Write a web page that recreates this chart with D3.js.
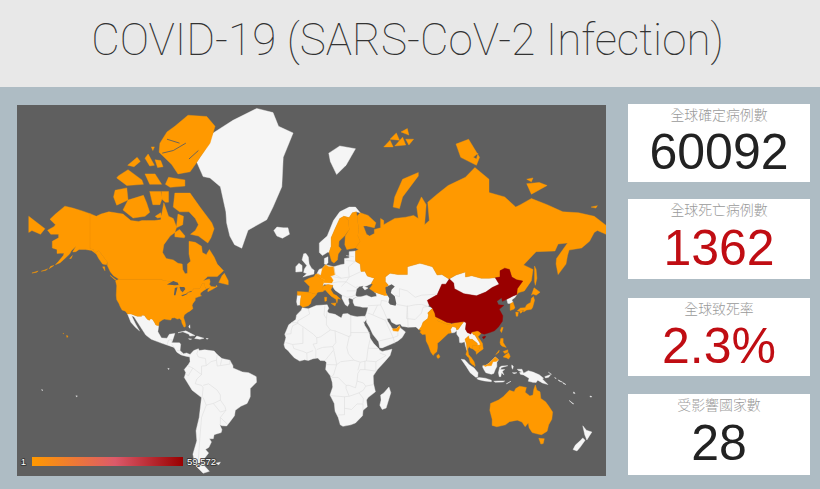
<!DOCTYPE html>
<html>
<head>
<meta charset="utf-8">
<script src="https://cdnjs.cloudflare.com/ajax/libs/d3/7.8.5/d3.min.js"></script>
<style>
  html, body { margin: 0; padding: 0; background: #aebcc4; overflow: hidden; }
  svg { display: block; }
</style>
</head>
<body>
<svg id="page" width="820" height="489"></svg>
<script>
// ── Values ──
const titleText = "COVID-19 (SARS-CoV-2 Infection)";
const cardLabels = ["全球確定病例數", "全球死亡病例數", "全球致死率", "受影響國家數"];
const cardValues = ["60092", "1362", "2.3%", "28"];
const cardColors = ["#222222", "#c00d13", "#c00d13", "#222222"];
const legendMin = 1, legendMax = 59572;

const reportingCountries = ["China", "Japan", "Singapore", "Thailand", "South Korea", "Malaysia", "Taiwan", "Germany", "Vietnam", "Australia", "USA", "France", "UAE", "Canada", "Philippines", "India", "Italy", "Russia", "Spain", "Nepal", "Cambodia", "Sri Lanka", "Finland", "Sweden", "Belgium"];
const reportingCases = [59572, 251, 58, 33, 28, 19, 18, 16, 16, 15, 14, 11, 8, 7, 3, 3, 3, 2, 2, 1, 1, 1, 1, 1, 1];

// ── Country outlines, [lon, lat] ──
const usaOutline = [[-124.7,48.4],[-123,49],[-95.2,49],[-94.6,48.7],[-92,48.3],[-89.6,48],[-88.4,48.3],[-84.8,46.8],[-84.4,46.5],[-82.5,45.3],[-82.1,43.6],[-82.5,42.6],[-83.1,42],[-79,42.8],[-79,43.3],[-76.8,43.6],[-75,45],[-71.5,45],[-70.8,45.4],[-70,46.7],[-69.2,47.4],[-68,47.3],[-67.8,45.7],[-67,44.9],[-69,44],[-70.7,43],[-70.8,42],[-70,41.7],[-72,41.2],[-74,40.6],[-74,39.5],[-75.5,38],[-76,37],[-75.5,35.3],[-77.5,34],[-79,33.3],[-81,32],[-81.4,30.5],[-80.5,28],[-80.1,26],[-80.5,25.2],[-81.2,25.2],[-82.5,27.5],[-82.8,29],[-84,30],[-85.5,29.7],[-87,30.4],[-89,30.3],[-89.5,29.2],[-91,29.3],[-93.8,29.7],[-95,29.2],[-97,28],[-97.3,26],[-99.1,26.4],[-100,28],[-101.4,29.8],[-102.7,29.7],[-103.2,29],[-104.5,29.6],[-106.5,31.8],[-108.2,31.8],[-108.2,31.3],[-111,31.3],[-114.8,32.5],[-117.1,32.5],[-118.5,34],[-120.6,34.6],[-121.9,36.6],[-122.5,37.8],[-124,39.8],[-124.3,42],[-124,46.3]];
const alaskaOutline = [[-141,69.6],[-141,60.3],[-139,60],[-137.5,58.9],[-135.5,59.7],[-133.5,58.4],[-130,55.9],[-130.5,54.8],[-133,55],[-135.5,57],[-137,58.5],[-140,59.7],[-144,60],[-148,60],[-150,59.3],[-152,59.2],[-150,61],[-153,59.5],[-154,58.5],[-157,57],[-160,55.5],[-163,54.8],[-161,56],[-158,58],[-157.5,58.8],[-160,58.8],[-162,58.7],[-162,60],[-165,60.5],[-165,62.5],[-161,63.5],[-161,64.5],[-166,64.5],[-168,65.6],[-164,66.5],[-163,67],[-166.5,68.3],[-163,69.5],[-157,71.2],[-152,70.8],[-146,70.2]];
const aleutianOutlines = [[[-167,53.3],[-164,54.5],[-166,54.2]],[[-172,52.3],[-168,53.2],[-169,52.7]],[[-178,51.6],[-174,52.4],[-175,51.9]],[[-154,57],[-152.2,58],[-153,57]]];
const hawaiiOutlines = [[[-156,20.2],[-155,19.9],[-155.6,19]],[[-158.2,21.6],[-157.7,21.4],[-158,21.2]]];
const canadaOutline = [[-141,69.6],[-137,69],[-134,69.5],[-129,70],[-125,69.8],[-120,69.5],[-115,68],[-110,67.8],[-108,68],[-105,68],[-100,68],[-96,68.2],[-94,71.9],[-92,70],[-91,69],[-88,68.5],[-86,66.5],[-85,69.5],[-81.5,69],[-82,67],[-86,66.2],[-87,65],[-90,64],[-94,61.5],[-94.8,59],[-92.5,57],[-88,56.5],[-85,55.3],[-82.3,55],[-82,53],[-80.5,51.3],[-79,51.5],[-79,53],[-79,55],[-77,56],[-78,58.5],[-78,60.5],[-78,62.5],[-74,62.2],[-70,61],[-69.5,59],[-67,58.3],[-65,60],[-62,57.5],[-60,55],[-56,52.5],[-60,50.2],[-66,50.2],[-69,48.5],[-65,49.2],[-64.5,48],[-65,47],[-64,46],[-61,45.8],[-60.5,46.5],[-60,46],[-63,44.7],[-66,43.6],[-66,44.5],[-64.5,45.5],[-67,45],[-67.8,45.7],[-68,47.3],[-69.2,47.4],[-70,46.7],[-70.8,45.4],[-71.5,45],[-75,45],[-76.8,43.6],[-79,43.3],[-79,42.8],[-83.1,42],[-82.5,42.6],[-82.1,43.6],[-82.5,45.3],[-84.4,46.5],[-84.8,46.8],[-88.4,48.3],[-89.6,48],[-92,48.3],[-94.6,48.7],[-95.2,49],[-123,49],[-123,49.3],[-126,50.5],[-128,52],[-130,54.5],[-130,55.9],[-133.5,58.4],[-135.5,59.7],[-137.5,58.9],[-139,60],[-141,60.3]];
const canadaIslands = [
  // Baffin
  [[-87,73.7],[-77.3,73.7],[-71,71],[-63.5,67.5],[-62,66],[-64,63.5],[-66,62],[-72,64],[-77,64.5],[-74,65.5],[-72,67],[-74,68.5],[-78,70],[-84,70],[-88,71]],
  // Ellesmere and Axel Heiberg
  [[-61.4,82.2],[-66.7,83],[-78.6,83.1],[-87,82.2],[-92,81.7],[-96.5,80.6],[-97,79.6],[-89,78.1],[-85,76.8],[-77.3,77.1],[-74,78.1],[-71,79],[-64.6,80.6]],
  // Devon
  [[-91,76.3],[-80.6,75.9],[-80.6,74.9],[-90,74.7],[-93,75.2]],
  // Bathurst, Cornwallis
  [[-106,76.8],[-99.6,76.8],[-95.4,75.2],[-103,75.2]],
  // Melville, Prince Patrick
  [[-123,76.5],[-116.8,77.4],[-108,75.9],[-107,75.2],[-117.6,75],[-124,76.2]],
  // Ringnes group
  [[-117,78],[-111,79],[-109,78.5],[-113,77.8]],[[-106,78.9],[-104,79.4],[-100,78],[-103,77.9]],[[-99.6,78.7],[-96,78.6],[-94.5,77.8],[-98,77.7]],[[-102,80.2],[-100,80.2],[-101,79.8]],
  // Banks, Victoria
  [[-125,74.2],[-117.6,74.6],[-116.8,72.4],[-124,71.4],[-126,73]],
  [[-116.8,72.4],[-107,73.3],[-105,71.9],[-103,69.9],[-106,69],[-113.6,68.6],[-120,70.4]],
  // Prince of Wales, Somerset, King William
  [[-103,74],[-96,74],[-95,72.8],[-96.5,71.5],[-101,71.5]],
  [[-95.5,74],[-91,74],[-91,72],[-93,72],[-95,72.5]],
  [[-99.5,69],[-96,69.8],[-95.5,68.8],[-98,68.6]],
  // Southampton, Newfoundland, Vancouver, Haida Gwaii
  [[-87,63.8],[-81,63.5],[-80.5,64],[-84,65.8],[-87,65]],
  [[-59,47.7],[-53,46.7],[-53,48.5],[-55.5,51.5],[-57,50.5]],
  [[-128.3,50.7],[-123.5,48.4],[-125,48.8]],
  [[-133,54],[-131.7,54],[-131.5,52.5]]
];
const greenlandOutline = [[-73,78.4],[-68,79.8],[-62.6,81.6],[-50,82.7],[-34.9,83.6],[-24.5,83.3],[-21,82.2],[-11.7,81.6],[-18,79],[-18.9,74.8],[-24.5,71],[-28.5,68.2],[-40.4,65.6],[-44.4,60.4],[-49,61.5],[-52,64],[-54,67.4],[-54.5,70],[-58,74.8],[-64.6,76.2],[-69,76.4]];
const icelandOutline = [[-24,65.5],[-22,64],[-18.5,63.4],[-14,64.5],[-15,66.2],[-18,66.2],[-22,66.4]];
const svalbardOutline = [[12,78.5],[16,76.7],[22,78],[28,80],[18,80.3],[11,79.5]];
const russiaOutline = [[31,69.8],[36,69.2],[41,67.5],[40,66.2],[35,66.7],[33,66.7],[35,64.5],[37,64],[40,64.7],[40,65.8],[44,66.2],[44,68.5],[46,68],[46,67],[53,68.5],[60,68.8],[65,69.2],[68,68.5],[67,71],[70,73],[73,71.5],[72,67],[75,68],[74,72],[80,73.5],[87,75],[98,76.3],[104,77.7],[113,76],[113,73.8],[123,73],[130,71],[133,71.5],[140,72.7],[150,71.5],[160,70],[170,69.8],[180,69],[187,67],[190.3,66],[187.5,64.5],[182,65.5],[180,65],[177,62.5],[172,60.5],[164,59.8],[163,58],[162,55],[157,51],[155.7,55],[156,57],[163,62],[157,61.7],[155,59.5],[143,59.3],[135,54.7],[141,53],[140,48.5],[135.5,44],[132,43.2],[130.7,42.3],[131,45],[134.5,48.3],[130.5,48.9],[127.5,50],[126,53],[123,53.5],[120,52.5],[120,50],[117,49.7],[113,49.5],[108,49.5],[102,50.5],[98,50],[98,52],[92,50.8],[87.5,49.2],[83,51],[80,50.8],[77,54],[71,55],[69,55.3],[61,54],[61,51],[55,51],[50,51.5],[47,50],[47,48],[49,46.5],[47.5,45.7],[47.5,43],[48.5,41.8],[46.5,41.9],[40,43.5],[37,45],[39,47],[38,47.2],[40,49.5],[35.5,50.4],[34,52.3],[31.5,52.2],[31,55],[28,56],[28,59.5],[30,60],[28,60.5],[31,62.5],[29.5,64],[30,66],[29,69]];
const russiaIslands = [
  [[-180,69],[-173,67],[-169.7,66],[-172.5,64.5],[-178,65.5],[-180,65]],
  [[52,71],[56,70.7],[58,73],[68,76.5],[68,77],[58,76],[53,73]],
  [[95,79],[105,78],[107,79],[100,81],[92,80.5]],
  [[137,75.3],[145,75.5],[150,75],[140,73.5]],
  [[178,71],[182,71.3],[181,70.8]],
  [[142,54.3],[143,53],[143.5,49.5],[142.5,46.5],[142,48],[142,52]],
  // Franz Josef Land
  [[46,80.2],[50,80.9],[52,80.2]],[[50,81],[54,81.6],[56,80.9]],[[53,80.3],[58,81.2],[60,80.4]],[[57,81.7],[61,82],[62,81.4]],[[60,81],[65,81],[62,80.4]],
  [[103,79],[106,79.5],[105,78.8]],
  [[137,76],[141,76.2],[140,75.6]]
];
const finlandOutline = [[20.6,69],[23.5,68],[24,65.8],[21.5,64],[21.2,61.5],[22.5,60],[25,60.2],[28,60.5],[31,62.5],[29.5,64],[30,66],[29,69],[28.5,70],[26,69.8],[24,68.7]];
const swedenOutline = [[11.2,59],[12.8,56],[14.3,55.4],[16.5,56.5],[17,58.5],[19,60],[17.3,61],[17.5,62.5],[21,64],[24,65.8],[23.5,68],[20.6,69],[18,68.5],[15,66],[12.5,63.5],[12.5,61]];
const norwayOutline = [[5,62],[5,59],[7,58],[10.5,59.2],[11.2,59],[12.5,61],[12.5,63.5],[15,66],[18,68.5],[20.6,69],[24,68.7],[26,69.8],[28.5,70],[31,69.8],[28,71],[24,71],[18,70],[14,68],[10,64]];
const denmarkOutline = [[8.2,55],[8.2,57],[10.5,57.6],[10.5,55.5],[9.5,54.9]];
const britainOutline = [[-5.5,50],[1.5,51.2],[1.7,52.7],[0,53.5],[-1.5,55],[-2,57.5],[-3.5,58.7],[-5,58.6],[-6,56.5],[-3,54.5],[-4.5,53.2],[-5,51.8],[-3,51.4]];
const irelandOutline = [[-10,52],[-6,52.2],[-6,54.5],[-8,55.3],[-10,54]];
const franceOutline = [[-1.7,43.4],[3,42.4],[4,43.4],[7.5,43.7],[7,46],[8.2,49],[6,49.5],[2.5,51],[1.5,50.1],[-1.5,49.5],[-4.7,48.4],[-1.2,46]];
const spainOutline = [[-9,43.7],[-1.7,43.4],[3.2,42.3],[0,39.8],[-0.5,38],[-2,36.8],[-5.5,36],[-7.3,37.2],[-7,39.6],[-6.5,42],[-9,42]];
const portugalOutline = [[-9,42],[-6.5,42],[-7,39.6],[-7.3,37.2],[-9,37],[-9.5,38.8]];
const belgiumOutline = [[2.5,51],[4,51.4],[6,50.7],[6,49.5]];
const germanyOutline = [[6,51],[7,53.5],[9,54.8],[11,54],[14.2,54],[15,51],[12.2,50.3],[13.8,48.7],[13,47.5],[7.6,47.6],[8.2,49],[6,49.5]];
const italyOutlines = [[[7,44],[7,46],[10.5,46.9],[13.7,46.5],[12.3,44.5],[14,42.5],[16,41.8],[18.5,40],[16.8,40.4],[16.2,38.1],[15.6,40],[12.5,41.5],[10.5,43],[8.8,44.4]],[[12.5,38],[15.6,38.2],[15,36.7]],[[8.3,41],[9.7,41],[9.5,39.2],[8.5,39]]];
const restOfEuropeOutline = [[3.5,51.4],[4.8,53],[7,53.5],[9,54.8],[14.2,54],[18.5,54.8],[21,55],[21,57],[24,57.2],[24,59.3],[28,59.5],[28,56],[31,55],[31.5,52.2],[34,52.3],[35.5,50.4],[40,49.5],[38,47.2],[35,46.2],[33.5,46],[36,45.3],[34,44.4],[32.6,45.5],[33,46.3],[30.5,46],[28.7,44.8],[28,42],[29,41.2],[27,40.5],[26.2,40],[24,40.7],[23.5,40],[24,38],[23,36.5],[21.5,37.3],[19.4,40.5],[19.5,42],[15,44.3],[13.7,45.6],[13.7,46.5],[8,47],[7,46],[7.5,47.6],[6,49.5]];
const westAsiaOutline = [[26.5,40],[29,41.2],[31.5,41.2],[35,42],[38,41],[41.5,41.5],[41,43],[40,43.5],[46.5,41.9],[47.5,43],[47.5,45.7],[49,46.5],[47,48],[47,50],[50,51.5],[55,51],[61,51],[61,54],[69,55.3],[71,55],[77,54],[80,50.8],[83,51],[87.5,49.2],[85.5,47],[83,47],[80,42.2],[74,39.5],[75,37],[74,36.5],[77,35.5],[74,33],[74.5,32],[74,30],[71,28],[70,25.5],[68.5,23.7],[66.5,25.3],[61.5,25.1],[57.5,25.7],[56.5,27],[54,26.6],[51,28],[50,30],[48,30],[48.5,28.5],[50,26.5],[51,25],[52,24],[54,24.2],[56,26],[56.4,24.8],[59.8,22.4],[57.7,19],[55,17],[52,15.5],[45,12.7],[43.4,12.8],[42.7,16.5],[39,21],[37,25],[35,28],[34.9,29.5],[34.2,31.3],[35,33],[36,36],[32.5,36],[30.5,36.4],[27.5,36.8],[26.5,38.5]];
const uaeOutline = [[51.6,24.2],[54,24.2],[56,26],[56.3,24.8],[55.2,22.7],[52,23]];
const mongoliaOutline = [[87.8,49.2],[92,50.8],[98,52],[98,50],[102,50.5],[108,49.5],[113,49.5],[117,49.7],[119.5,47],[115,45.5],[111,43.5],[105,41.7],[97,42.7],[91,45],[90.5,47.5]];
const chinaOutlines = [[[73.7,39.5],[80,42.2],[83,47],[85.5,47],[87.8,49.2],[90.5,47.5],[91,45],[97,42.7],[105,41.7],[111,43.5],[115,45.5],[119.5,47],[117,49.7],[120,50],[120,52.5],[123,53.5],[126,53],[127.5,50],[130.5,48.9],[134.5,48.3],[131,45],[130.7,42.3],[128,41.5],[124.3,40],[121.5,39],[121,40.8],[118,39],[119,37.3],[122.5,37],[119.5,35],[121.8,31.5],[121.5,28.5],[119,25.3],[116.5,23],[113.5,22],[110,21],[108,21.6],[106.5,22.8],[105.5,23],[102,22.4],[101.5,21.2],[99.2,22],[98,24],[98.5,27.7],[97,28.3],[92,27.8],[89,27.5],[86,28],[81,30.2],[79,31],[78.5,33],[77,35.5],[75,37]],[[108.7,19.3],[110.5,20],[111,19.5],[109.6,18.2]]];
const taiwanOutline = [[120.2,23],[121,25],[122,25],[121,22]];
const northKoreaOutline = [[124.3,40],[128,41.5],[130.7,42.3],[129.7,41],[127.5,39.7],[128.3,38.6],[126.7,37.9],[125,38]];
const southKoreaOutline = [[126.7,37.9],[128.3,38.6],[129.4,36],[129,35.1],[126.5,34.4],[126.5,37]];
const japanOutlines = [[[131,34.2],[133,35.6],[136,35.8],[137,37.3],[139.5,38.5],[140,40.5],[141.3,41.4],[142,39.5],[140.8,36],[140,35],[137,34.6],[135,33.6],[135,34.6],[132,34]],[[130,33.5],[131.7,33.4],[131.3,31.3],[130.3,31.3]],[[132.5,33.9],[134.5,34.2],[134,33.4],[133,32.9]],[[140,42],[141.7,45.4],[145.5,43.4],[143,42],[141,42.5]]];
const indiaOutline = [[74,33],[77,35.5],[78.5,33],[79,31],[81,30.2],[80.2,28.8],[84,27.4],[88,26.4],[88.2,27.5],[89,27],[92,27.8],[97,28.3],[95,26],[93.5,24],[92.5,23.5],[92,25],[89.8,25.5],[88.5,24],[89,21.8],[87,21.4],[85,19.7],[82,17],[80.2,15.5],[80.2,13],[79.8,10.3],[78,8.8],[77.5,8],[76,10],[74.5,14],[73,17],[72.8,20],[72.5,21],[70.5,20.8],[69,22.3],[70,23],[68.5,23.7],[70,25.5],[71,28],[74,30],[74.5,32]];
const nepalOutline = [[80.2,28.8],[81,30.2],[86,28],[88.2,27.5],[88,26.4],[84,27.4]];
const sriLankaOutline = [[79.8,8],[81,8.7],[81.8,7],[80.5,6],[79.8,7]];
const bangladeshOutline = [[88.5,24],[89.8,25.5],[92,25],[92.5,23],[91,22],[89,21.8]];
const myanmarOutline = [[92.5,21],[92.5,23.5],[93.5,24],[95,26],[97,28.3],[98.5,27.7],[98,24],[99.2,22],[101.5,21.2],[100,20],[97.7,18],[98.7,15],[99,11],[98,14],[97.5,16.5],[95.5,15.8],[94.3,16],[94,19]];
const laosOutline = [[101.5,21.2],[102,22.4],[103,20.8],[104,20.5],[107,16],[107.5,14.7],[105.8,14],[105.5,15.5],[102.3,18],[100.5,18],[100,20]];
const vietnamOutline = [[102,22.4],[105.5,23],[106.5,22.8],[108,21.6],[106,19.5],[108.8,15.5],[109.3,12],[106.8,10.3],[105,8.7],[104.8,10.3],[106.5,11.3],[107.5,14.7],[107,16],[104,20.5],[103,20.8]];
const thailandOutline = [[100,20],[100.5,18],[102.3,18],[105.5,15.5],[105.5,14.3],[102.5,14],[102.8,12],[101,12.7],[100.5,13.5],[99.5,12],[100,8.5],[102,6.2],[101,6],[99.5,7],[98.3,8.5],[99,11],[98.7,15],[97.7,18]];
const cambodiaOutline = [[102.5,14],[105.5,14.3],[107.5,14.7],[106.5,11.3],[104.8,10.3],[102.8,12]];
const malaysiaOutlines = [[[100.3,6.3],[102,6.2],[103.5,4],[104.2,1.5],[102.5,2],[101,3.5]],[[109.6,1.8],[111,1.7],[113,3],[115,5],[117,7],[119,5.2],[117.6,4.2],[115.5,4],[114.5,1.5],[112,1.4],[110.5,0.9]]];
const singaporeOutline = [[103.6,1.5],[104.1,1.5],[104,1.1],[103.6,1.1]];
const indonesiaOutlines = [
  [[109,1.5],[111,1.7],[113,3],[115,5],[117,7],[119,5.2],[118,3.5],[118,1],[117,-1],[116,-3.5],[114.5,-4],[111,-3],[110,-1.5],[109,0.5]],
  [[95.3,5.6],[97.5,5.2],[100.5,2],[103.5,0],[106,-3],[105.8,-5.8],[104.5,-5.8],[101,-3],[98.5,1]],
  [[105.2,-6.8],[106.5,-6],[110.7,-6.5],[114.5,-7.7],[114.5,-8.7],[110,-8.2],[106.5,-7.4]],
  [[119.5,-5.5],[119,-3],[119.8,0.5],[121,1.2],[125,1.5],[121,0.3],[120.2,-1],[123,-1],[121.5,-2],[122.5,-4.5],[121,-3],[120.5,-5.5]],
  [[131,-0.8],[134,-0.8],[135,-3.3],[138,-1.7],[141,-2.6],[141,-9.1],[138,-8.4],[138.5,-6.5],[135,-4.4],[133,-4],[132.5,-2.8],[134,-2.5],[131.5,-1.5]],
  [[141,-2.6],[145,-4.3],[147.7,-6.5],[147,-7],[150.5,-10.5],[147,-9.5],[144,-7.7],[143,-9.2],[141,-9.1]],
  [[116,-8.4],[119,-8.2],[123,-8.2],[122,-8.9],[117,-9]],[[124,-10],[127,-8.4],[125,-9.6]],
  [[127.5,2],[128.5,1],[128,-0.8],[127.5,0.5]],[[127.9,-3],[130.8,-3],[129,-3.6]],
  [[148.5,-5.5],[152.3,-4.2],[151,-5.8],[149,-6.3]],[[150.8,-2.7],[152.8,-4],[151.5,-3.2]],
  [[155,-6],[155.8,-6.8],[154.8,-6.3]],[[157,-7.5],[159.8,-9],[157.6,-8.3]],[[160,-9.2],[162,-10.5],[160.5,-10]],
  [[167,-15],[167.8,-16],[166.7,-15.8]],[[164,-20.2],[167,-22.3],[166,-22]],[[177.3,-17.5],[178.6,-18],[177.4,-18.2]]
];
const philippinesOutlines = [[[120.5,18.5],[122,18.5],[122,16],[124,13],[121.5,13.7],[120.5,14.5],[120,16]],[[122,7],[123.7,8.5],[125.5,9.7],[126.5,7.3],[125.5,5.7],[124,6.5]],[[122,10.5],[125,11.5],[125,10],[123,9.2]],[[117.3,8.5],[119.5,11.3],[119.3,10]]];
const australiaOutlines = [[[114,-22],[113.5,-26],[115,-31],[115,-34.3],[118,-35],[123.5,-34],[126,-32.3],[131,-31.5],[134,-32.5],[136,-35],[138,-33],[138.5,-35.5],[140.5,-38],[144,-38.7],[146.5,-39],[150,-37.3],[151,-34],[153,-31],[153.5,-27],[151,-23.5],[149,-21],[146,-19],[145.5,-15],[143.5,-14],[142.5,-10.8],[141.5,-13.5],[141,-17],[139,-17.5],[136,-15.2],[136.8,-12.3],[132.5,-11.5],[130,-13],[129,-15],[126,-14],[122,-18],[119,-20]],[[144.7,-40.8],[148.2,-41],[147.5,-43.3],[146,-43.5]]];
const newZealandOutlines = [[[172.7,-34.5],[175,-36.8],[178.5,-37.7],[177,-39.5],[175.3,-41.6],[174,-39.2]],[[172.7,-40.6],[174.2,-41.7],[171,-45],[169,-46.6],[166.5,-46],[168,-44],[171,-42]]];
const madagascarOutline = [[49.3,-12],[50.5,-15.5],[47.5,-24.7],[45,-25.5],[43.5,-23],[44.3,-20],[44,-17],[46,-15.7]];
const africaOutline = [[-5.9,35.8],[-2,35.2],[3,36.9],[10,37.3],[11,35.5],[10,34],[11,33],[15,32.3],[19,30.3],[20,32.5],[23,32.7],[25,31.7],[29,31],[32,31.2],[34.2,31.3],[34.9,29.5],[33.6,28],[33,28.5],[34,26],[35.5,24],[37,21],[37.3,18.7],[39.5,15.5],[43,12],[43.2,11.4],[45,10.5],[51.2,11.9],[50,8],[47,4.5],[42,-1],[39.3,-5],[39.5,-10],[40.7,-15],[36,-18.5],[35,-20],[35.5,-24],[32.8,-26],[32.5,-29],[28,-33],[25,-34],[20,-34.8],[18.3,-34],[17,-30],[15,-26.5],[14.5,-22],[11.8,-17],[13.5,-12],[13.2,-9],[12,-5],[9,-1],[9.5,3.5],[8.5,4.6],[5.5,4.8],[4,6.3],[1,5.9],[-2,4.8],[-4.5,5.2],[-7.5,4.4],[-11,6.5],[-13.3,9],[-15,11],[-16.8,12.5],[-17.5,14.7],[-16.3,19],[-17,21],[-14.5,26.5],[-10,29.5],[-9.5,32],[-6.5,34.5]];
const southAmericaOutline = [[-77.3,8.6],[-75,11],[-72,12.2],[-71.5,11],[-68,11.5],[-62,10.7],[-60,8.5],[-57,6],[-52,5],[-50,1.5],[-50,0],[-44,-2.5],[-40,-3],[-35.2,-5.5],[-35,-9],[-39,-13],[-39,-18],[-41,-22],[-45,-23.7],[-48.5,-26],[-49,-29],[-52,-32.5],[-54,-34.6],[-57,-34.5],[-58.4,-34],[-57,-36.5],[-57.5,-38],[-62,-39],[-62.5,-41],[-65,-41],[-63.7,-42.5],[-65.3,-45],[-67.5,-46],[-65.5,-47.5],[-69,-50.5],[-68.5,-52.5],[-65,-54.8],[-69,-55.5],[-74,-52.5],[-75.5,-48],[-73,-42],[-73.5,-37],[-71.5,-30],[-70,-18.5],[-76,-14],[-81,-6],[-80,-3],[-81,-1],[-78.5,2],[-77.3,4],[-77.5,7]];
const mexicoOutline = [[-117.1,32.5],[-114.8,32.5],[-111,31.3],[-108.2,31.3],[-108.2,31.8],[-106.5,31.8],[-104.5,29.6],[-103.2,29],[-102.7,29.7],[-101.4,29.8],[-100,28],[-99.1,26.4],[-97.3,26],[-97.8,22.5],[-95.5,18.8],[-92,18.6],[-90.5,21],[-87,21.5],[-88,18.5],[-89,15.9],[-84,15.8],[-83.3,15],[-83.7,11],[-81.5,9],[-79.5,9.5],[-77.3,8.6],[-77.5,7],[-80,7.5],[-83,8.3],[-85.7,10],[-87.5,13],[-92,14.5],[-96,15.8],[-102,18],[-105.5,20.5],[-109,25.5],[-113,31],[-114.5,31.5],[-112,27],[-109.5,23],[-112,25],[-115,28]];
const caribbeanOutlines = [[[-85,21.9],[-80,23],[-74.2,20.2],[-77.5,19.9],[-78,21],[-82,22.5]],[[-74.4,18.5],[-73,19.9],[-68.5,18.6],[-71,18]],[[-78.3,18.3],[-76.3,18.1],[-77.3,17.8]],[[-67.2,18.5],[-65.7,18.4],[-66.5,18]],[[-78.2,25.2],[-77.5,26.5],[-77.3,24.5]],[[-61,-51.7],[-58,-51.3],[-59,-52.3]],[[-91.5,-0.2],[-90.5,-0.5],[-91,-1]],[[-150,-17.4],[-149,-17.6],[-149.6,-18]],[[-171.8,-13.6],[-171,-14],[-171.6,-14.1]]];

// lakes and inland seas painted over the land
const lakeOutlines = [
  [[47,45.5],[51,47],[53,46],[51,44.5],[50.5,43],[53,41.5],[54,38],[53.5,36.8],[50,37.4],[49,38.5],[49.5,40.5],[47.5,43]],
  [[-92,46.8],[-88,48.4],[-85,47.6],[-84.7,46.6],[-87,46.5]],
  [[-87.6,42],[-86.6,42],[-85.3,45.6],[-87,45.3]],
  [[-84,45.8],[-81,45.8],[-80.3,44.8],[-82,43.4],[-83.3,44.2]],
  [[-83,41.8],[-79,42.9],[-79,42.6],[-82,41.5]],
  [[-79.6,43.3],[-76.3,44],[-76.5,43.5]]
];
// dark channels that cut the big arctic islands
const arcticChannels = [
  [[-95,79.5],[-88,79.8],[-80,80.6]],[[-92,81],[-84,80.6]],[[-78,78.8],[-72,79.8]]
];

// internal borders of the white land masses
const africaBorders = [
  [[-2,35.2],[-1.2,32.5],[-8.7,28.7],[-8.7,27.3]],[[-13,27.7],[-8.7,27.7]],[[-17,21],[-13,21.3],[-13,23],[-12,26],[-8.7,27.3]],
  [[-8.7,27.3],[-4.8,25],[1.2,21],[3.3,19],[4.2,19],[5.8,19.5],[12,23.5],[9.5,26.5],[9.5,30],[8,32],[8.5,36.9]],
  [[9.5,30],[10,34]],[[12,23.5],[15,23],[24,19.5],[24,20],[25,20],[25,31.7]],[[25,22],[37,22]],
  [[24,19.5],[22.5,13],[23.5,9],[27,5],[31,3.7],[35,4.5],[36,12.5],[37.3,18]],
  [[3.3,19],[3.5,15.5],[1,15],[2.8,11.5],[2.7,6.3]],[[3.5,11.7],[7,13],[13.5,13.5],[14.2,11.5],[8.5,4.6]],[[15,23],[15.5,16],[13.5,13.5]],
  [[-12,14.8],[-5.5,15.5],[-5.5,25]],[[-16.5,16],[-12,14.8],[-11.3,12.3],[-5.5,10.5],[-3,9.5],[-2.8,5]],[[-3,9.5],[1,11]],
  [[14.2,11],[15,7.5],[16,2.2],[18,3.5],[18.5,4],[27,5]],[[9.8,2.2],[16,2]],[[16,2.2],[14,-4.5],[12.2,-5.8]],
  [[13,-6],[17,-6],[22,-11],[24,-11],[28,-12.5],[29,-8.3],[29.5,-3.5],[31,-1],[34,-1],[41,-2]],[[31,3.7],[29.5,-1.5]],[[34,4.5],[34,-1]],
  [[36,12.5],[42.5,12.3]],[[41,4],[47.5,8],[43.5,9.5]],[[35,4.5],[41,4],[41,-1.7]],
  [[39.5,-10.5],[34.5,-11.5],[33,-9.5],[29,-8.3]],[[11.8,-17.3],[21,-18],[24,-17.7],[22,-13],[22,-11]],
  [[21,-18],[21,-28.5],[17,-28.6]],[[21,-24.8],[25.5,-25.5],[29,-22.3],[32.8,-22.3],[32.8,-26]],
  [[24,-17.7],[30,-15.7],[33,-14]],[[32.8,-22],[33,-19],[30.3,-15.7]],[[33,-14],[34.5,-11.5]]
];
const americasBorders = [
  [[-72,11.8],[-73,9],[-72,7],[-67.5,6],[-67,1.5]],[[-67,1.5],[-70,1.2],[-70,-4.2],[-73,-2],[-75.5,0],[-79,1.5]],[[-75.5,0],[-78.5,-5],[-80,-3.5]],
  [[-70,-4.2],[-73,-7],[-74,-10],[-70,-11],[-69,-12.5],[-69.5,-17.5],[-70,-18.5]],[[-69,-11],[-65.5,-10],[-60,-14],[-58,-17],[-58,-20],[-62.5,-22],[-67,-23],[-69,-18.5]],
  [[-67,-23],[-70,-30],[-71,-40],[-72,-50],[-69,-52]],[[-58,-20],[-55,-24],[-54.5,-26],[-58,-27],[-62.5,-22]],[[-54.5,-26],[-58,-30],[-58,-34]],[[-53.5,-33.7],[-58,-30]],
  [[-60,8.5],[-60.5,5],[-60,1.2],[-52,2.5],[-52,5]],[[-57,6],[-58,2]],[[-67,1.5],[-64,4],[-60.5,5]],
  [[-92,14.5],[-91,17.5],[-89,17.8],[-89,15.9]],[[-87.5,13],[-89,15]],[[-83.7,11],[-85.7,11]],[[-83,8.3],[-82.7,9.5]]
];
const asiaEuropeBorders = [
  [[26.5,41.8],[28,42]],[[36,36.8],[44,37.2],[44.5,39.5]],[[36,33],[39,32],[42,37]],[[39,32],[47,29],[48,30]],[[44,37.2],[46,34],[48,30]],
  [[44.5,39.5],[48,39]],[[47,29],[52,19],[55,20],[55,22]],[[43.2,17],[52,19]],[[53,15.5],[52,19]],
  [[61,37],[61.5,25.1]],[[54,37.5],[61,36.5],[66,37.3],[70,37.5],[74,36.5]],[[56,41.3],[56,45],[61,44],[66,41],[70,42],[80,42.5]],[[53,42],[56,41.3]],
  [[61,36.5],[60.5,30],[66,29.5],[70,33],[71,36],[74,36.5]],
  [[14.2,54],[15,51],[19,49.5],[24,50],[23.5,54],[28,56]],[[24,50],[31.5,52.2]],[[12.2,50.3],[19,49.5]],[[13,47.5],[17,48],[22,48],[24,50]],[[22,48],[28,45.5],[30,46]],[[22.5,44],[28.5,44]],[[19,46],[22,48]],[[19.5,42],[22.5,41],[26.5,41.5]],[[6,51],[3.5,51.4]],[[22,56.3],[28,56]],[[22,58],[27,57.6]]
];
// faint lines inside the orange land
const northAmericaBorders = [[[-123,49],[-95.2,49]],[[-141,69.6],[-141,60.3]]];

// ── Layout ──
const width = 820, height = 489;
const headerHeight = 87;
const mapBox = { x: 17, y: 105, w: 589, h: 371 };
const cardBoxes = [[104, 78], [199, 80], [298, 78], [394, 81]];
const cardBaselines = [65, 66, 65, 66];
const cardX = 628, cardW = 182;
const legendBar = { x: 32, y: 457, w: 151, h: 9 };

const oceanColor = "#5f5f5f", noDataColor = "#f5f5f5", borderColor = "#dedede";
const color = d3.scaleLinear()
  .domain([legendMin, legendMax * 0.55, legendMax])
  .range(["#ff9900", "#dc5a6a", "#990000"]);

const casesByName = new Map(reportingCountries.map((n, i) => [n, reportingCases[i]]));

// Plain Mercator in page pixels, no antimeridian cut, ring winding does not matter
const mapK = 90, mapCx = 311.5, mapCy = 368;
const rad = Math.PI / 180;
const mercator = d3.geoTransform({
  point(lon, lat) {
    const [mx, my] = d3.geoMercatorRaw(lon * rad, lat * rad);
    this.stream.point(mapCx + mapK * mx, mapCy - mapK * my);
  }
});
const geoPath = d3.geoPath(mercator);
const closeRing = r => [...r, r[0]];
const shape = rings => ({ type: "MultiPolygon", coordinates: rings.map(r => [closeRing(r)]) });

const landShapes = [
  ["Greenland", [greenlandOutline]], ["Iceland", [icelandOutline]], ["Svalbard", [svalbardOutline]],
  ["Rest of Europe", [restOfEuropeOutline]], ["West Asia", [westAsiaOutline]], ["Norway", [norwayOutline]],
  ["Denmark", [denmarkOutline]], ["Britain", [britainOutline]], ["Ireland", [irelandOutline]], ["Portugal", [portugalOutline]],
  ["Africa", [africaOutline]], ["Madagascar", [madagascarOutline]], ["South America", [southAmericaOutline]],
  ["Mexico", [mexicoOutline]], ["Caribbean", caribbeanOutlines], ["Mongolia", [mongoliaOutline]], ["North Korea", [northKoreaOutline]],
  ["Bangladesh", [bangladeshOutline]], ["Myanmar", [myanmarOutline]], ["Laos", [laosOutline]], ["Indonesia", indonesiaOutlines],
  ["New Zealand", newZealandOutlines],
  ["USA", [usaOutline, alaskaOutline, ...aleutianOutlines, ...hawaiiOutlines]], ["Canada", [canadaOutline, ...canadaIslands]],
  ["Russia", [russiaOutline, ...russiaIslands]], ["Finland", [finlandOutline]], ["Sweden", [swedenOutline]],
  ["France", [franceOutline]], ["Spain", [spainOutline]], ["Belgium", [belgiumOutline]], ["Germany", [germanyOutline]], ["Italy", italyOutlines],
  ["UAE", [uaeOutline]], ["India", [indiaOutline]], ["Nepal", [nepalOutline]], ["Sri Lanka", [sriLankaOutline]],
  ["Vietnam", [vietnamOutline]], ["Thailand", [thailandOutline]], ["Cambodia", [cambodiaOutline]], ["Malaysia", malaysiaOutlines], ["Singapore", [singaporeOutline]],
  ["Philippines", philippinesOutlines], ["Australia", australiaOutlines], ["Japan", japanOutlines], ["South Korea", [southKoreaOutline]], ["Taiwan", [taiwanOutline]],
  ["China", chinaOutlines]
];

const svg = d3.select("#page");

// ── Header ──
svg.append("rect").attr("width", width).attr("height", height).attr("fill", "#aebcc4");
svg.append("rect").attr("width", width).attr("height", headerHeight).attr("fill", "#e8e8e8");
svg.append("text").attr("x", 407.5).attr("y", 55).attr("text-anchor", "middle")
  .style("font-family", "Roboto").style("font-weight", 100).style("font-size", "44px")
  .attr("fill", "#333333").text(titleText);

// ── Map ──
svg.append("clipPath").attr("id", "mapClip").append("rect")
  .attr("x", mapBox.x).attr("y", mapBox.y).attr("width", mapBox.w).attr("height", mapBox.h);
svg.append("rect").attr("x", mapBox.x).attr("y", mapBox.y).attr("width", mapBox.w).attr("height", mapBox.h).attr("fill", oceanColor);

const gMap = svg.append("g").attr("clip-path", "url(#mapClip)");
gMap.selectAll("path.land").data(landShapes).join("path").attr("class", "land")
  .attr("d", d => geoPath(shape(d[1])))
  .attr("fill", d => casesByName.has(d[0]) ? color(casesByName.get(d[0])) : noDataColor)
  .attr("stroke", d => casesByName.has(d[0]) ? color(casesByName.get(d[0])) : noDataColor)
  .attr("stroke-width", 0.4);
gMap.append("path").attr("d", geoPath(shape(lakeOutlines))).attr("fill", oceanColor);
gMap.append("path").attr("d", geoPath({ type: "MultiLineString", coordinates: arcticChannels }))
  .attr("fill", "none").attr("stroke", oceanColor).attr("stroke-width", 0.9);
gMap.append("path")
  .attr("d", geoPath({ type: "MultiLineString", coordinates: [...africaBorders, ...americasBorders, ...asiaEuropeBorders] }))
  .attr("fill", "none").attr("stroke", borderColor).attr("stroke-width", 0.6);
gMap.append("path").attr("d", geoPath({ type: "MultiLineString", coordinates: northAmericaBorders }))
  .attr("fill", "none").attr("stroke", "#ee8f00").attr("stroke-width", 0.5);

// ── Legend ──
const grad = svg.append("defs").append("linearGradient").attr("id", "legendGrad");
grad.selectAll("stop").data(color.domain()).join("stop")
  .attr("offset", d => (d - legendMin) / (legendMax - legendMin))
  .attr("stop-color", d => color(d));
svg.append("rect").attr("x", legendBar.x).attr("y", legendBar.y).attr("width", legendBar.w).attr("height", legendBar.h)
  .attr("fill", "url(#legendGrad)");
svg.selectAll("text.legend").data([
  [23.5, "middle", d3.format(",")(legendMin)],
  [187, "start", d3.format(",")(legendMax)]
]).join("text").attr("class", "legend")
  .attr("x", d => d[0]).attr("y", 465).attr("text-anchor", d => d[1])
  .style("font-family", "Liberation Sans").style("font-size", "9.5px")
  .style("paint-order", "stroke fill").attr("stroke", "#333").attr("stroke-width", 1.5)
  .attr("fill", "#fff").text(d => d[2]);

// ── Number cards ──
const cards = svg.selectAll("g.card").data(cardLabels).join("g").attr("class", "card")
  .attr("transform", (d, i) => `translate(${cardX},${cardBoxes[i][0]})`);
cards.append("rect").attr("width", cardW).attr("height", (d, i) => cardBoxes[i][1]).attr("fill", "#ffffff");
cards.append("text").attr("x", cardW / 2).attr("y", 16).attr("text-anchor", "middle")
  .style("font-family", "'Noto Sans CJK TC'").style("font-weight", 300).style("font-size", "13.9px")
  .attr("fill", "#9a9a9a").text(d => d);
cards.append("text").attr("x", cardW / 2).attr("y", (d, i) => cardBaselines[i]).attr("text-anchor", "middle")
  .style("font-family", "'Liberation Sans'").style("font-size", "50px")
  .attr("fill", (d, i) => cardColors[i]).text((d, i) => cardValues[i]);
</script>
</body>
</html>
